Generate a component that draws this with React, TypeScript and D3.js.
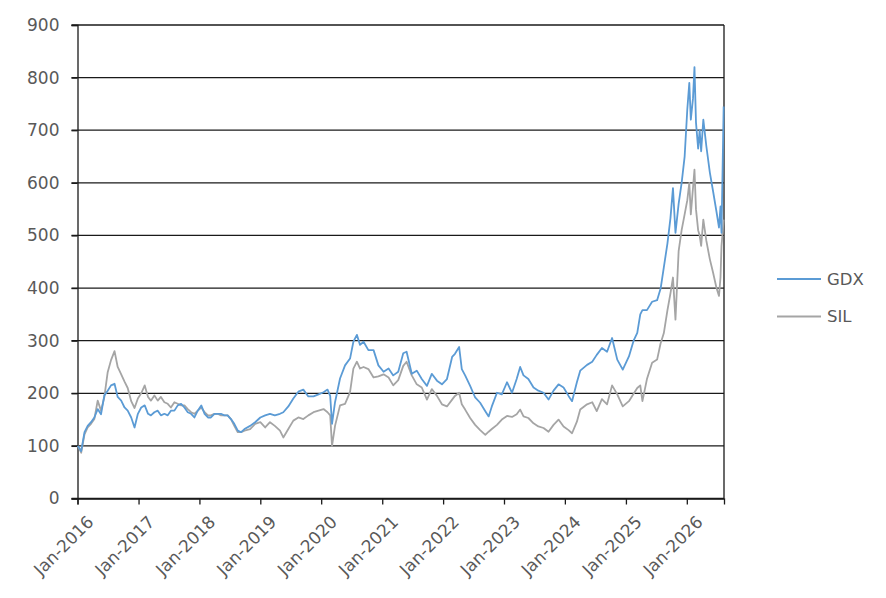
import React, { useEffect, useRef } from "react";
import * as d3 from "d3";

// ---------- Data ----------
const dates = [
  // 2016 - 2018
  "2016-01-03", "2016-01-23", "2016-02-12", "2016-03-02", "2016-03-22", "2016-04-11", "2016-05-01", "2016-05-21",
  "2016-06-10", "2016-06-30", "2016-07-20", "2016-08-10", "2016-08-29", "2016-09-19", "2016-10-09", "2016-10-28",
  "2016-11-18", "2016-12-08", "2016-12-28", "2017-01-17", "2017-02-07", "2017-02-27", "2017-03-16", "2017-04-06",
  "2017-04-26", "2017-05-15", "2017-06-05", "2017-06-25", "2017-07-14", "2017-08-04", "2017-08-24", "2017-09-13",
  "2017-10-03", "2017-10-23", "2017-11-12", "2017-12-02", "2017-12-22", "2018-01-12", "2018-02-01", "2018-02-21",
  "2018-03-11", "2018-04-01", "2018-04-20", "2018-05-10", "2018-05-30", "2018-06-19", "2018-07-09", "2018-07-29",
  "2018-08-19", "2018-09-08", "2018-09-28",
  // 2018 - 2021
  "2018-11-01", "2018-12-01", "2019-01-01", "2019-01-30", "2019-02-28", "2019-03-29", "2019-04-29", "2019-05-19",
  "2019-06-18", "2019-07-18", "2019-08-17", "2019-09-16", "2019-10-16", "2019-11-16", "2019-12-16", "2020-01-15",
  "2020-02-08", "2020-02-24", "2020-03-06", "2020-03-24", "2020-04-23", "2020-05-23", "2020-06-22", "2020-07-12",
  "2020-08-02", "2020-08-21", "2020-09-11", "2020-10-10", "2020-11-10", "2020-12-09", "2021-01-09", "2021-02-08",
  "2021-03-08", "2021-04-07", "2021-05-07", "2021-05-27",
  // 2021 - 2024
  "2021-06-27", "2021-07-27", "2021-08-26", "2021-09-26", "2021-10-25", "2021-11-25", "2021-12-25", "2022-01-24",
  "2022-02-24", "2022-03-13", "2022-04-07", "2022-04-23", "2022-05-13", "2022-06-12", "2022-07-12", "2022-08-11",
  "2022-09-11", "2022-10-01", "2022-10-20", "2022-11-20", "2022-12-19", "2023-01-19", "2023-02-18", "2023-03-18",
  "2023-04-08", "2023-04-28", "2023-05-27", "2023-06-27", "2023-07-26", "2023-08-26", "2023-09-25", "2023-10-25",
  "2023-11-24", "2023-12-24", "2024-01-23", "2024-02-13", "2024-03-13", "2024-04-02",
  // 2024 - 2026
  "2024-05-13", "2024-06-13", "2024-07-10", "2024-08-10", "2024-09-10", "2024-10-10", "2024-11-10", "2024-12-13",
  "2025-01-19", "2025-02-16", "2025-03-10", "2025-03-28", "2025-04-10", "2025-05-07", "2025-06-07", "2025-07-07",
  "2025-07-28", "2025-08-16", "2025-09-07", "2025-09-25", "2025-10-10", "2025-10-25", "2025-11-13", "2025-12-01",
  "2025-12-19", "2026-01-04", "2026-01-16", "2026-01-25", "2026-02-07", "2026-02-16", "2026-02-25", "2026-03-10",
  "2026-03-19", "2026-03-28", "2026-04-10", "2026-04-28", "2026-05-19", "2026-06-07", "2026-06-28", "2026-07-13",
  "2026-07-22", "2026-07-28", "2026-08-10",
];

const gdx = [
  100, 90, 126, 138, 145, 154, 170, 160,
  196, 205, 215, 218, 193, 186, 173, 167,
  154, 135, 161, 173, 177, 161, 158, 164,
  167, 158, 161, 158, 167, 167, 177, 180,
  173, 164, 161, 154, 167, 177, 161, 154,
  154, 161, 161, 161, 158, 158, 151, 142,
  129, 126, 132,
  138, 145, 154, 158, 161, 158, 161, 164,
  175, 190, 203, 207, 194, 194, 198, 202,
  207, 195, 142, 183, 228, 253, 266, 298,
  311, 292, 298, 282, 282, 253, 241, 247,
  234, 241, 276, 279,
  237, 243, 227, 214, 237, 224, 217, 227,
  269, 275, 288, 246, 234, 214, 192, 182,
  166, 156, 175, 201, 198, 221, 201, 227,
  250, 234, 227, 211, 205, 201, 188, 205,
  217, 211, 195, 185, 221, 243,
  254, 260, 273, 286, 279, 305, 264, 245,
  270, 300, 315, 350, 358, 358, 374, 377,
  399, 439, 485, 533, 590, 505, 560, 600,
  650, 740, 790, 720, 760, 820, 715, 665,
  700, 660, 720, 670, 620, 585, 545, 515,
  555, 505, 745,
];

const sil = [
  100, 87, 122, 135, 142, 151, 186, 167,
  193, 240, 263, 280, 250, 236, 222, 210,
  185, 172, 190, 200, 215, 193, 186, 196,
  186, 193, 183, 180, 173, 183, 180, 177,
  177, 170, 164, 161, 167, 173, 164, 158,
  158, 161, 161, 158, 158, 158, 151, 138,
  126, 126, 129,
  132, 142, 145, 135, 145, 138, 129, 116,
  132, 148, 154, 151, 158, 164, 167, 170,
  164, 158, 100, 138, 177, 180, 202, 247,
  260, 247, 250, 246, 230, 232, 236, 230,
  215, 225, 252, 260,
  234, 217, 211, 188, 208, 195, 179, 175,
  188, 195, 201, 179, 169, 153, 140, 130,
  121, 127, 132, 140, 150, 157, 155, 160,
  169, 156, 153, 143, 137, 134, 127, 140,
  150, 137, 130, 124, 146, 169,
  179, 183, 166, 189, 179, 215, 198, 175,
  185, 199, 210, 215, 185, 227, 258, 264,
  295, 314, 358, 390, 420, 340, 470, 510,
  540, 567, 600, 540, 590, 625, 550, 510,
  500, 480, 530, 490, 455, 430, 400, 385,
  420, 480, 530,
];

const yTicks = [0, 100, 200, 300, 400, 500, 600, 700, 800, 900];
const seriesNames = ["GDX", "SIL"];
const seriesColors = ["#5B9BD5", "#A5A5A5"];

interface Pt {
  date: Date;
  value: number;
}

const W = 886;
const H = 598;

const App: React.FC = () => {
  const svgRef = useRef<SVGSVGElement | null>(null);

  useEffect(() => {
    const svg = d3.select(svgRef.current);
    svg.selectAll("*").remove();

    const parse = d3.timeParse("%Y-%m-%d");
    const left = 77.5;
    const right = 724;
    const top = 25;
    const bottom = 498.5;

    const x = d3
      .scaleTime()
      .domain([new Date(2016, 0, 1), new Date(2026, 7, 12)])
      .range([left, right]);
    const y = d3.scaleLinear().domain([0, 900]).range([bottom, top]);

    const font = "'DejaVu Sans', Verdana, sans-serif";
    const textColor = "#595959";

    // gridlines
    svg
      .append("g")
      .selectAll("line")
      .data(yTicks)
      .enter()
      .append("line")
      .attr("x1", left - 6)
      .attr("x2", right)
      .attr("y1", (d) => y(d))
      .attr("y2", (d) => y(d))
      .attr("stroke", "#1a1a1a")
      .attr("stroke-width", 1.3);

    // y axis
    const yAxis = svg
      .append("g")
      .attr("transform", `translate(${left},0)`)
      .call(d3.axisLeft(y).tickValues(yTicks).tickSize(6).tickPadding(12));
    yAxis.select(".domain").attr("stroke", "#1a1a1a").attr("stroke-width", 1.3);
    yAxis.selectAll(".tick line").attr("stroke", "#1a1a1a").attr("stroke-width", 1.3);
    yAxis
      .selectAll(".tick text")
      .attr("fill", textColor)
      .style("font-family", font)
      .style("font-size", "17px");

    // right border
    svg
      .append("line")
      .attr("x1", right)
      .attr("x2", right)
      .attr("y1", top)
      .attr("y2", bottom)
      .attr("stroke", "#1a1a1a")
      .attr("stroke-width", 1.3);

    // x axis
    const fmt = d3.timeFormat("Jan-%Y");
    const xAxis = svg
      .append("g")
      .attr("transform", `translate(0,${bottom})`)
      .call(
        d3
          .axisBottom(x)
          .tickValues(d3.timeYear.range(new Date(2016, 0, 1), new Date(2026, 1, 1)))
          .tickSize(6)
          .tickFormat((d) => fmt(d as Date))
      );
    xAxis.select(".domain").attr("stroke", "#1a1a1a").attr("stroke-width", 1.3);
    xAxis.selectAll(".tick line").attr("stroke", "#1a1a1a").attr("stroke-width", 1.3);
    xAxis
      .selectAll(".tick text")
      .attr("fill", textColor)
      .style("font-family", font)
      .style("font-size", "17px")
      .attr("text-anchor", "end")
      .attr("dy", "0.35em")
      .attr("transform", "translate(6,14) rotate(-45)");

    // lines
    const series: Pt[][] = [gdx, sil].map((vals) =>
      vals.map((v, i) => ({ date: parse(dates[i]) as Date, value: v }))
    );
    const line = d3
      .line<Pt>()
      .x((d) => x(d.date))
      .y((d) => y(d.value));

    [1, 0].forEach((k) => {
      svg
        .append("path")
        .datum(series[k])
        .attr("fill", "none")
        .attr("stroke", seriesColors[k])
        .attr("stroke-width", 1.8)
        .attr("stroke-linejoin", "round")
        .attr("d", line);
    });

    // legend
    const legend = svg.append("g");
    seriesNames.forEach((name, i) => {
      const ly = 279 + i * 37.5;
      legend
        .append("line")
        .attr("x1", 777)
        .attr("x2", 821)
        .attr("y1", ly)
        .attr("y2", ly)
        .attr("stroke", seriesColors[i])
        .attr("stroke-width", 1.8);
      legend
        .append("text")
        .attr("x", 827)
        .attr("y", ly)
        .attr("dy", "0.35em")
        .attr("fill", textColor)
        .style("font-family", font)
        .style("font-size", "16.5px")
        .text(name);
    });
  }, []);

  return (
    <svg
      ref={svgRef}
      width={W}
      height={H}
      style={{ position: "absolute", left: 0, top: 0, background: "#fff" }}
    />
  );
};

export default App;
